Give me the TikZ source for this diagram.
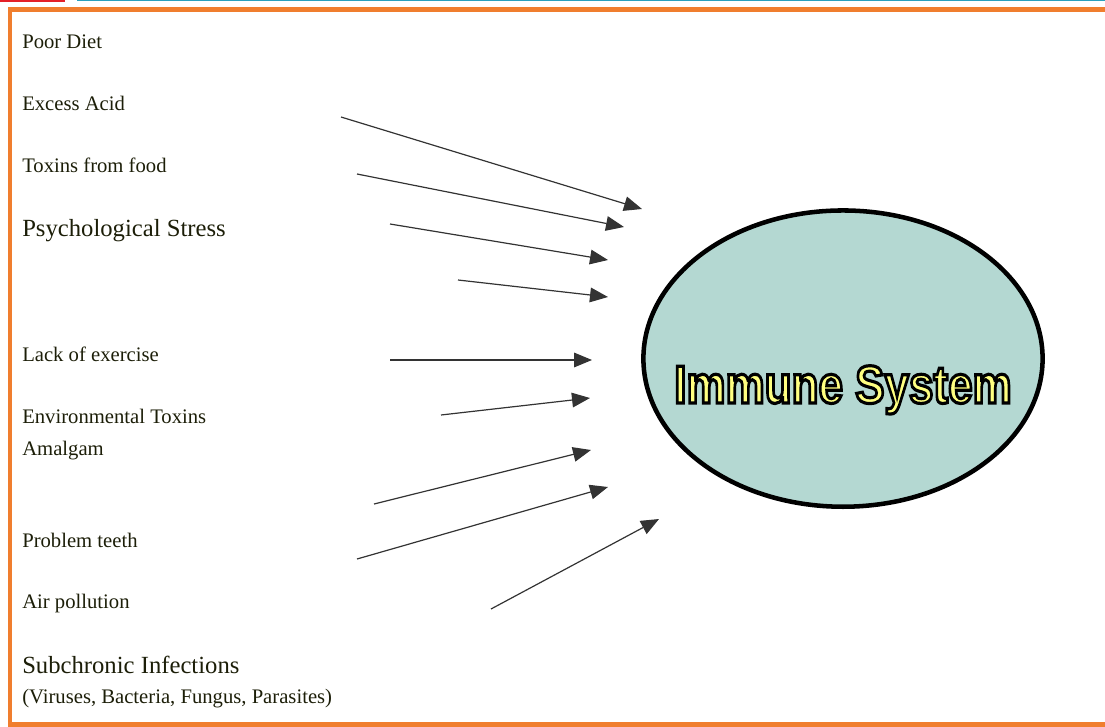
\documentclass[tikz,border=0pt]{standalone}
\usepackage{fontspec}
\setmainfont{Liberation Serif}
\newfontfamily\headfont{Liberation Sans}
\usetikzlibrary{shapes.geometric, arrows.meta, positioning}
\definecolor{FrameOrange}{RGB}{240,126,46}
\definecolor{TabRed}{RGB}{228,32,40}
\definecolor{TabTeal}{RGB}{40,160,190}
\definecolor{CellTeal}{RGB}{180,216,210}
\definecolor{GlowYellow}{RGB}{255,255,128}
\definecolor{Ink}{RGB}{28,30,8}
% texto relleno amarillo con borde negro (modo de trazado 2)
\newcommand\outlined[1]{\special{pdf:literal direct 0 0 0 RG 2 Tr 2.4 w}#1\special{pdf:literal direct 0 Tr}}

\begin{document}
\begin{tikzpicture}[
        x=0.75pt, y=-0.75pt,
        frame/.style={line width=3.4pt, draw=FrameOrange},
        cause/.style={anchor=base west, inner sep=0pt, text=Ink, font=\fontsize{15.5}{18}\selectfont},
        bigcause/.style={cause, font=\fontsize{18.5}{22}\selectfont},
        feed/.style={draw=black!80, line width=0.9pt, -{Triangle[length=13.5pt, width=11pt]}},
        cell/.style={ellipse, draw=black, line width=3.4pt, fill=CellTeal, inner sep=0pt,
                     minimum width=299.4pt, minimum height=222.2pt}
    ]
        \useasboundingbox (0,0) rectangle (1105,727);

        % Pestanas de la ventana arriba
        \fill[TabRed] (0,0) rectangle (65,2.5);
        \fill[TabTeal] (77,0) rectangle (1105,1.5);

        % Marco naranja (sin lado derecho)
        \draw[frame] (1105,9.5) -- (10,9.5) -- (10,724.5) -- (1105,724.5);

        % Causas en la columna izquierda
        \node[cause] (diet) at (22,49) {Poor Diet};
        \node[cause] (acid) at (22,111) {Excess Acid};
        \node[cause] (foodtox) at (22,173) {Toxins from food};
        \node[bigcause] (stress) at (22,236) {Psychological Stress};
        \node[cause] (exercise) at (22,361) {Lack of exercise};
        \node[cause] (envtox) at (22,423) {Environmental Toxins};
        \node[cause] (amalgam) at (22,455) {Amalgam};
        \node[cause] (teeth) at (22,547) {Problem teeth};
        \node[cause] (air) at (22,608) {Air pollution};
        \node[bigcause] (infect) at (22,673) {Subchronic Infections};
        \node[cause] (pathogens) at (22,703) {(Viruses, Bacteria, Fungus, Parasites)};

        % Sistema inmune
        \node[cell] (immune) at (843,358.6) {};
        \node[anchor=base, inner sep=0pt, text=GlowYellow, font=\headfont\bfseries\fontsize{40}{40}\selectfont]
            (immunelabel) at (843,403) {\scalebox{0.825}[1]{\outlined{Immune System}}};

        % Extremos de las flechas
        \coordinate (s1) at (341,117);  \coordinate (e1) at (642,209);
        \coordinate (s2) at (357,174);  \coordinate (e2) at (624,227);
        \coordinate (s3) at (390,224);  \coordinate (e3) at (608,260);
        \coordinate (s4) at (458,280);  \coordinate (e4) at (608,297);
        \coordinate (s5) at (390,360);  \coordinate (e5) at (592,360);
        \coordinate (s6) at (441,415);  \coordinate (e6) at (590,398);
        \coordinate (s7) at (374,504);  \coordinate (e7) at (591,450);
        \coordinate (s8) at (357,559);  \coordinate (e8) at (608,487);
        \coordinate (s9) at (491,609);  \coordinate (e9) at (659,519);

        % Flechas hacia el sistema inmune
        \draw[feed] (s1) -- (e1);
        \draw[feed] (s2) -- (e2);
        \draw[feed] (s3) -- (e3);
        \draw[feed] (s4) -- (e4);
        \draw[feed] (s5) -- (e5);
        \draw[feed] (s6) -- (e6);
        \draw[feed] (s7) -- (e7);
        \draw[feed] (s8) -- (e8);
        \draw[feed] (s9) -- (e9);
    \end{tikzpicture}
\end{document}
